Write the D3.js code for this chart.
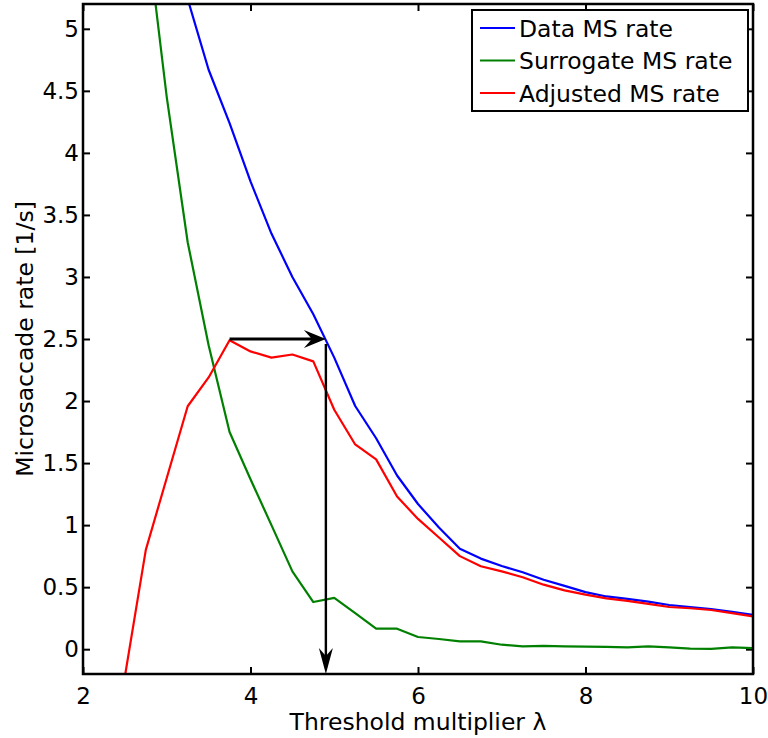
<!DOCTYPE html>
<html>
<head>
<meta charset="utf-8">
<script src="https://cdn.jsdelivr.net/npm/d3@7"></script>
<style>
  html, body { margin: 0; padding: 0; background: #fff; }
  svg text { font-family: "DejaVu Sans", "Liberation Sans", Arial, sans-serif; fill: #000; }
</style>
</head>
<body>
<svg id="chart" width="768" height="738"></svg>
<script>
// ---- data ----
const lambdaValues = [2.5, 2.75, 3.0, 3.25, 3.5, 3.75, 4.0, 4.25, 4.5, 4.75, 5.0, 5.25, 5.5, 5.75, 6.0, 6.25, 6.5, 6.75, 7.0, 7.25, 7.5, 7.75, 8.0, 8.25, 8.5, 8.75, 9.0, 9.25, 9.5, 9.75, 10.0];
const dataRate = [7.4, 6.65, 5.83, 5.24, 4.67, 4.24, 3.77, 3.35, 3.0, 2.70, 2.35, 1.96, 1.70, 1.40, 1.17, 0.98, 0.81, 0.73, 0.67, 0.62, 0.56, 0.51, 0.46, 0.425, 0.405, 0.383, 0.356, 0.34, 0.324, 0.30, 0.276];
const surrogateRate = [7.6, 5.85, 4.45, 3.28, 2.45, 1.75, 1.37, 1.0, 0.627, 0.38, 0.413, 0.29, 0.165, 0.165, 0.098, 0.082, 0.063, 0.063, 0.036, 0.023, 0.027, 0.023, 0.02, 0.018, 0.015, 0.023, 0.015, 0.005, 0.003, 0.015, 0.008];
const adjustedRate = [-0.22, 0.80, 1.38, 1.958, 2.19, 2.49, 2.40, 2.35, 2.375, 2.32, 1.93, 1.65, 1.53, 1.23, 1.05, 0.90, 0.75, 0.668, 0.627, 0.58, 0.52, 0.474, 0.44, 0.41, 0.39, 0.365, 0.34, 0.33, 0.316, 0.29, 0.265];
const seriesNames = ["Data MS rate", "Surrogate MS rate", "Adjusted MS rate"];
const seriesColors = ["#0000ff", "#008000", "#ff0000"];
const xTicks = [2, 4, 6, 8, 10];
const yTicks = [0, 0.5, 1, 1.5, 2, 2.5, 3, 3.5, 4, 4.5, 5];
const yTickLabels = ["0", "0.5", "1", "1.5", "2", "2.5", "3", "3.5", "4", "4.5", "5"];
const arrowStart = [3.75, 2.5];   // peak of adjusted rate
const arrowCorner = [4.9, 2.5];   // chosen threshold on data curve
const xLabel = "Threshold multiplier \u03bb";
const yLabel = "Microsaccade rate [1/s]";

// ---- layout ----
const L = 83, R = 753, T = 4, B = 674;
const svg = d3.select("#chart");
const x = d3.scaleLinear().domain([2, 10]).range([L, R]);
const y = d3.scaleLinear().domain([-0.2, 5.2]).range([B, T]);

const tickFont = 23, labelFont = 23.5, legendFont = 23.5;
const FONT = "DejaVu Sans, Liberation Sans, Arial, sans-serif";

svg.append("defs").append("clipPath").attr("id", "clip")
  .append("rect").attr("x", L).attr("y", T).attr("width", R - L).attr("height", B - T);

// axes (MATLAB style: inward ticks, box)
const tickLen = 7;
const axB = d3.axisBottom(x).tickValues(xTicks).tickSizeInner(-tickLen).tickSizeOuter(0).tickPadding(14).tickFormat(d3.format("d"));
const axT = d3.axisTop(x).tickValues(xTicks).tickSizeInner(-tickLen).tickSizeOuter(0).tickFormat("");
const axL = d3.axisLeft(y).tickValues(yTicks).tickSizeInner(-tickLen).tickSizeOuter(0).tickPadding(4).tickFormat((d, i) => yTickLabels[i]);
const axR = d3.axisRight(y).tickValues(yTicks).tickSizeInner(-tickLen).tickSizeOuter(0).tickFormat("");

function styleAxis(g) {
  g.select(".domain").remove();
  g.selectAll(".tick line").attr("stroke", "#000").attr("stroke-width", 2);
  g.selectAll(".tick text").attr("font-size", tickFont).attr("font-family", FONT).attr("fill", "#000");
}
svg.append("g").attr("transform", `translate(0,${B})`).call(axB).call(styleAxis);
svg.append("g").attr("transform", `translate(0,${T})`).call(axT).call(styleAxis);
svg.append("g").attr("transform", `translate(${L},0)`).call(axL).call(styleAxis);
svg.append("g").attr("transform", `translate(${R},0)`).call(axR).call(styleAxis);

// lines
const rows = lambdaValues.map((l, i) => ({ l, d: dataRate[i], s: surrogateRate[i], a: adjustedRate[i] }));
const keys = ["d", "s", "a"];
const plot = svg.append("g").attr("clip-path", "url(#clip)");
keys.forEach((k, i) => {
  plot.append("path").datum(rows)
    .attr("fill", "none").attr("stroke", seriesColors[i]).attr("stroke-width", 2.2)
    .attr("stroke-linejoin", "round")
    .attr("d", d3.line().x(r => x(r.l)).y(r => y(r[k])));
});

// arrows (concave-back heads)
function arrowHead(tipX, tipY, dir, len, half, notch) {
  const c = Math.cos(dir), s = Math.sin(dir);
  const p = (a, b) => [tipX + a * c - b * s, tipY + a * s + b * c];
  const pts = [p(0, 0), p(-len, -half), p(-len + notch, 0), p(-len, half)];
  svg.append("path").attr("d", "M" + pts.map(q => q.join(",")).join("L") + "Z").attr("fill", "#000");
}
const ax0 = x(arrowStart[0]), ay0 = y(arrowStart[1]);
const ax1 = x(arrowCorner[0]), ay1 = y(arrowCorner[1]);
svg.append("line").attr("x1", ax0).attr("y1", ay0).attr("x2", ax1 - 12).attr("y2", ay0)
  .attr("stroke", "#000").attr("stroke-width", 3);
arrowHead(ax1, ay0, 0, 22, 9, 8);
svg.append("line").attr("x1", ax1).attr("y1", ay1 + 5).attr("x2", ax1).attr("y2", B - 12)
  .attr("stroke", "#000").attr("stroke-width", 2.4);
arrowHead(ax1, B, Math.PI / 2, 26, 7, 8);

// frame
svg.append("rect").attr("x", L).attr("y", T).attr("width", R - L).attr("height", B - T)
  .attr("fill", "none").attr("stroke", "#000").attr("stroke-width", 2.5);

// axis labels
svg.append("text").attr("x", (L + R) / 2).attr("y", 730).attr("text-anchor", "middle")
  .attr("font-size", labelFont).text(xLabel);
svg.append("text").attr("transform", `translate(33,${(T + B) / 2}) rotate(-90)`).attr("text-anchor", "middle")
  .attr("font-size", labelFont).text(yLabel);

// legend
const lg = svg.append("g");
lg.append("rect").attr("x", 472).attr("y", 10).attr("width", 276).attr("height", 101)
  .attr("fill", "#fff").attr("stroke", "#000").attr("stroke-width", 2);
seriesNames.forEach((n, i) => {
  const yy = 28 + i * 32.5;
  lg.append("line").attr("x1", 480).attr("x2", 515).attr("y1", yy).attr("y2", yy)
    .attr("stroke", seriesColors[i]).attr("stroke-width", 2);
  lg.append("text").attr("x", 519).attr("y", yy + 8.5).attr("font-size", legendFont).text(n);
});
</script>
</body>
</html>
